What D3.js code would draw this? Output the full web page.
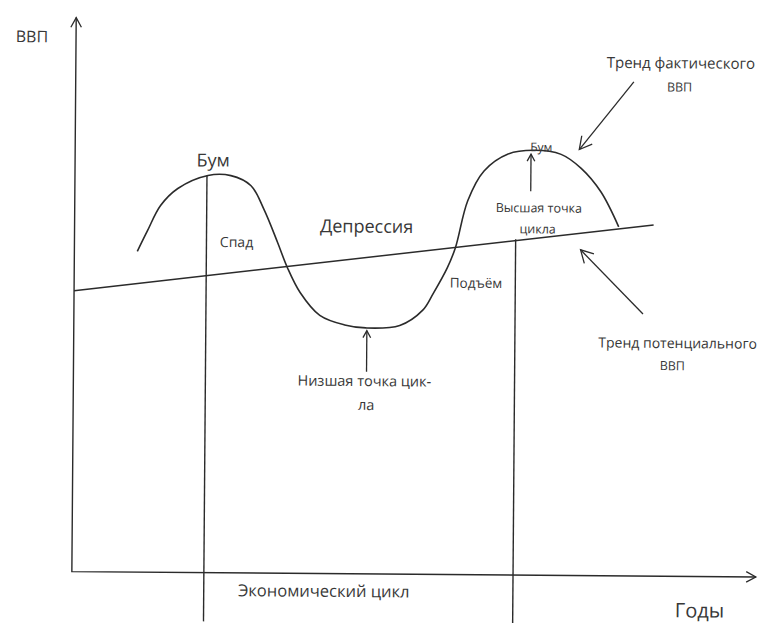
<!DOCTYPE html>
<html>
<head>
<meta charset="utf-8">
<script src="https://cdn.jsdelivr.net/npm/d3@7"></script>
<style>
  body { margin: 0; background: #fff; }
  svg { display: block; }
  text { font-family: "Open Sans", "Liberation Sans", sans-serif; fill: #383838; }
</style>
</head>
<body>
<div id="d3-container"></div>
<script>
/**
 * CONSTANTS AND GLOBALS
 * */
const width = 761,
    height = 623;

// the cycle curve (years, GDP level)
const cycleYears = [1.84, 2.13, 2.51, 3.01, 3.89, 4.56, 5.15, 5.53, 5.94, 6.23, 6.61, 7.19, 7.92, 8.54, 9.53, 10.2, 10.5, 10.91, 11.14, 11.49, 11.96, 12.66, 13.42, 14.21, 14.8, 15.38, 15.91];
const cycleGdp = [57.9, 61.6, 66.2, 69.3, 71.7, 71.7, 69.9, 65.7, 59.7, 55.2, 50.7, 46.6, 44.9, 44.4, 44.9, 47.7, 50.7, 55.4, 59.0, 67.5, 72.9, 76.0, 76.7, 76.0, 73.5, 69.3, 63.0];

// potential GDP trend: start and end
const trendYears = [0, 16.93];
const trendGdp = [50.7, 63.4];

// vertical marker lines: [year, top gdp, bottom gdp]
const markerYears = [3.86, 12.9];
const markerTop = [71.7, 60.6];
const markerBottom = [-8.8, -8.8];

// pointer arrows: from -> to (arrowhead at "to")
const arrowFrom = [[16.32, 89.2], [16.64, 47.3], [13.33, 69.3], [8.57, 36.5]];
const arrowTo = [[14.74, 76.9], [14.8, 58.8], [13.33, 76.0], [8.57, 43.9]];

// labels
const labelText = ["ВВП", "Бум", "Спад", "Депрессия", "Бум", "Высшая точка", "цикла", "Подъём",
    "Тренд фактического", "ВВП", "Тренд потенциального", "ВВП", "Низшая точка цик-", "ла",
    "Экономический цикл", "Годы"];
const labelAt = [[-1.29, 95.5], [4.04, 73.3], [4.74, 58.8], [8.54, 61.6], [13.63, 76.5], [13.57, 65.5], [13.54, 61.7], [11.75, 51.8],
    [17.69, 91.7], [17.66, 87.5], [17.66, 41.2], [17.51, 37.2], [8.51, 33.9], [8.57, 29.6],
    [7.37, -4.2], [18.36, -7.4]];
const labelSize = [16, 18, 14, 18, 12, 12.5, 12.5, 13.5, 15, 12.5, 14, 12.5, 14.5, 14.5, 16.5, 20];

const x = d3.scaleLinear().domain([0, 20]).range([74, 758]);
const y = d3.scaleLinear().domain([0, 100]).range([574, 20]);

const svg = d3.select("#d3-container")
    .append("svg")
    .attr("width", width)
    .attr("height", height);

// the scan is slightly turned, so the whole drawing is too
const g = svg.append("g").attr("transform", "rotate(0.45, 380, 300)");

const ink = "#2b2b2b";

// draws an open "V" arrowhead at tip, pointing away from tail (pixel coords)
function arrowHead(tip, tail, size) {
    const a = Math.atan2(tip[1] - tail[1], tip[0] - tail[0]);
    const spread = 0.5;
    const pts = [
        [tip[0] - size * Math.cos(a - spread), tip[1] - size * Math.sin(a - spread)],
        tip,
        [tip[0] - size * Math.cos(a + spread), tip[1] - size * Math.sin(a + spread)]
    ];
    g.append("path")
        .attr("d", d3.line()(pts))
        .attr("fill", "none")
        .attr("stroke", ink)
        .attr("stroke-width", 1.3);
}

// axes
const yAxisTop = [x(0), y(100)];
const origin = [x(0), y(0)];
const xAxisEnd = [x(20), y(0)];
g.append("path")
    .attr("d", d3.line()([yAxisTop, origin, xAxisEnd]))
    .attr("fill", "none")
    .attr("stroke", ink)
    .attr("stroke-width", 1.4);
arrowHead(yAxisTop, origin, 11);
arrowHead(xAxisEnd, origin, 11);

// trend line
g.append("line")
    .attr("x1", x(trendYears[0])).attr("y1", y(trendGdp[0]))
    .attr("x2", x(trendYears[1])).attr("y2", y(trendGdp[1]))
    .attr("stroke", ink)
    .attr("stroke-width", 1.5);

// vertical markers
g.selectAll(".marker")
    .data(markerYears)
    .join("line")
    .attr("class", "marker")
    .attr("x1", d => x(d)).attr("x2", d => x(d))
    .attr("y1", (d, i) => y(markerTop[i]))
    .attr("y2", (d, i) => y(markerBottom[i]))
    .attr("stroke", ink)
    .attr("stroke-width", 1.4);

// actual GDP curve
const cycle = cycleYears.map((d, i) => [d, cycleGdp[i]]);
g.append("path")
    .datum(cycle)
    .attr("d", d3.line().x(d => x(d[0])).y(d => y(d[1])).curve(d3.curveCatmullRom.alpha(0.5)))
    .attr("fill", "none")
    .attr("stroke", ink)
    .attr("stroke-width", 1.6);

// pointer arrows
arrowFrom.forEach((f, i) => {
    const tail = [x(f[0]), y(f[1])];
    const tip = [x(arrowTo[i][0]), y(arrowTo[i][1])];
    g.append("path")
        .attr("d", d3.line()([tail, tip]))
        .attr("stroke", ink)
        .attr("stroke-width", 1.3);
    arrowHead(tip, tail, i < 2 ? 14 : 8);
});

// labels
g.selectAll(".label")
    .data(labelText)
    .join("text")
    .attr("class", "label")
    .attr("x", (d, i) => x(labelAt[i][0]))
    .attr("y", (d, i) => y(labelAt[i][1]))
    .attr("text-anchor", "middle")
    .attr("font-size", (d, i) => labelSize[i])
    .text(d => d);
</script>
</body>
</html>
